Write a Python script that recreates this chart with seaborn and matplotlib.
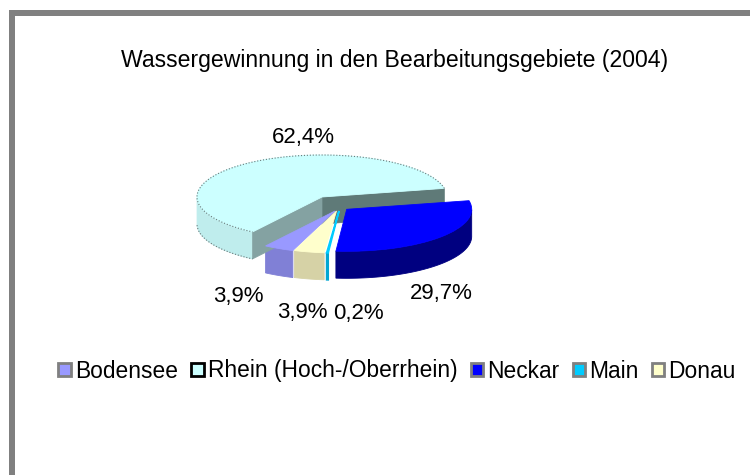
"""Exploded pseudo-3D pie of water extraction per catchment area."""

import matplotlib
matplotlib.use("Agg")
import matplotlib.pyplot as plt
import numpy as np
import seaborn as sns
from matplotlib.patches import Patch, Polygon, Rectangle

TITLE = "Wassergewinnung in den Bearbeitungsgebiete (2004)"
AREAS = ["Bodensee", "Rhein (Hoch-/Oberrhein)", "Neckar", "Main", "Donau"]
SHARES = [3.9, 62.4, 29.7, 0.2, 3.9]

TOP_COLORS = ["#9999FF", "#CCFFFF", "#0000FF", "#00CCFF", "#FFFFCC"]
SIDE_COLORS = ["#8080D6", "#BFEDED", "#000080", "#00A6D2", "#D6D2A6"]
LEGEND_EDGES = ["#808080", "#000000", "#808080", "#808080", "#808080"]

# pixel geometry of the tilted pie
CX, CY = 332.7, 203.6
RX, RY = 125, 42
DEPTH = 27
START = 250.3
# where each slice's tip ends up, in pixels
TIPS = [(335, 211), (322, 197), (346.7, 209.3), (339, 211), (336.5, 211)]
LABEL_POS = [(238, 296), (303, 137), (441, 293), (358, 313), (302, 312)]


def to_data(x, y):
    return (x - CX) / RX, (CY - y) / RY


sns.set_theme(style="white")
plt.rcParams["font.family"] = ["Liberation Sans", "DejaVu Sans"]

fig = plt.figure(figsize=(7.5, 4.75), dpi=100)
ax = fig.add_axes([0, 0, 1, 1])

wedges, _ = ax.pie(SHARES, colors=sns.color_palette(TOP_COLORS), startangle=START,
                   counterclock=False, radius=1, frame=False)
ax.set_aspect("auto")
x0, y0 = to_data(0, 475)
x1, y1 = to_data(750, 0)
ax.set_xlim(x0, x1)
ax.set_ylim(y0, y1)
ax.axis("off")

drop = DEPTH / RY
# back slices first so the nearer ones overlap them
for i in [1, 0, 4, 3, 2]:
    w = wedges[i]
    tx, ty = to_data(*TIPS[i])
    w.set_center((tx, ty))
    w.set_edgecolor(TOP_COLORS[i])
    # the Main slice is barely a sliver, keep it visible
    edge_w = 1.2 if AREAS[i] == "Main" else 0.6
    w.set_linewidth(edge_w)
    w.set_zorder(5 + i)
    a = np.radians(np.linspace(w.theta1, w.theta2, 120))
    rim = np.column_stack([tx + np.cos(a), ty + np.sin(a)])
    low = rim - [0, drop]
    # only the part of the rim facing the viewer
    keep = np.sin(a) <= 0
    side = np.vstack([rim[keep], low[keep][::-1]])
    ax.add_patch(Polygon(side, closed=True, fc=SIDE_COLORS[i], ec=SIDE_COLORS[i],
                         lw=edge_w, zorder=2 + i * 0.1))
    if AREAS[i].startswith("Rhein"):
        # open cut faces of the big slice
        for idx, col in [(0, "#5F7A78"), (-1, "#84A2A2")]:
            p = rim[idx]
            face = [(tx, ty), p, p - [0, drop], (tx, ty - drop)]
            ax.add_patch(Polygon(face, closed=True, fc=col, ec=col, lw=0.5, zorder=3))
        ax.plot(rim[:, 0], rim[:, 1], ls=":", color="#6A7A7A", lw=0.8, zorder=12)
        ax.plot(low[keep][:, 0], low[keep][:, 1], ls=":", color="#6A7A7A", lw=0.8, zorder=4)

for share, pos in zip(SHARES, LABEL_POS):
    lx, ly = to_data(*pos)
    ax.text(lx, ly, f"{share:.1f}%".replace(".", ","), ha="center", va="center",
            fontsize=16, color="black", zorder=20)

lx, ly = to_data(394.5, 60)
ax.text(lx, ly, TITLE, ha="center", va="center", fontsize=16.6, color="black")

handles = [Patch(facecolor=c, edgecolor=e, linewidth=2)
           for c, e in zip(TOP_COLORS, LEGEND_EDGES)]
ax.legend(handles, AREAS, ncol=5, loc="center", bbox_to_anchor=(397 / 750, 1 - 371 / 475),
          frameon=False, fontsize=16.4, handlelength=0.55, handleheight=0.55,
          handletextpad=0.18, columnspacing=0.58, borderpad=0, borderaxespad=0,
          labelcolor="black")

# grey frame, only top and left
for rect in [(9, 0, 6, 465), (9, 459, 741, 6)]:
    fig.add_artist(Rectangle((rect[0] / 750, rect[1] / 475), rect[2] / 750, rect[3] / 475,
                             transform=fig.transFigure, fc="#808080", ec="none"))

fig.savefig("out.png", dpi=100)
plt.close(fig)
